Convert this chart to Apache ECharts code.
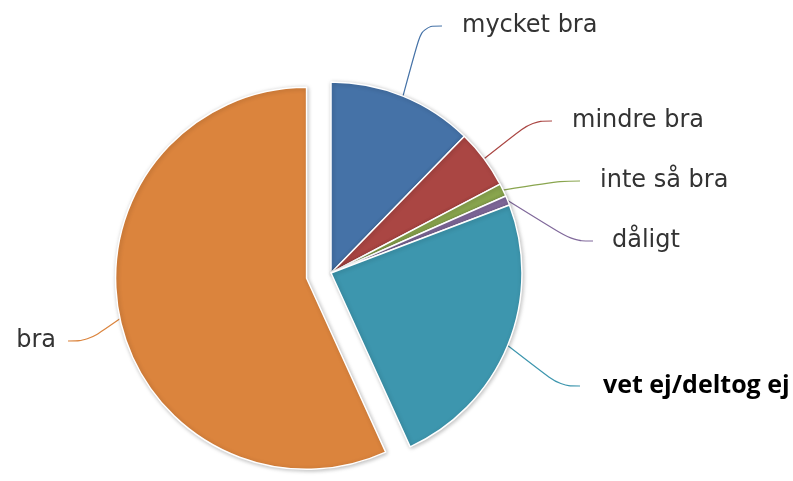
<!DOCTYPE html>
<html>
<head>
<meta charset="utf-8">
<script src="https://cdn.jsdelivr.net/npm/echarts@6/dist/echarts.min.js"></script>
<style>html,body{margin:0;padding:0;background:#fff}#c{width:793px;height:481px}</style>
</head>
<body>
<div id="c"></div>
<script>
var categories = ['mycket bra', 'mindre bra', 'inte så bra', 'dåligt', 'vet ej/deltog ej', 'bra'];
var values = [12.3, 5.0, 1.1, 0.8, 24.0, 56.8];
var colors = ['#4572A7', '#AA4643', '#89A54E', '#80699B', '#3D96AE', '#DB843D'];
var explodedName = 'bra';
// label anchor (text start for right-side labels, text end for left-side label)
var labelPos = [[462, 26], [572, 121], [600, 181], [612, 241], [603, 386], [56, 341]];
var labelAlign = ['left', 'left', 'left', 'left', 'left', 'right'];
var labelGap = [20, 20, 20, 19, 23, 12];

var CX = 331, CY = 273, R = 191, OFFSET = 25;

var total = values.reduce(function (a, b) { return a + b; }, 0);
var acc = 0, mid = 0;
categories.forEach(function (n, i) {
  if (n === explodedName) mid = acc + values[i] / 2;
  acc += values[i];
});
var midAngle = Math.PI / 2 - mid / total * 2 * Math.PI;
var ecx = CX + OFFSET * Math.cos(midAngle);
var ecy = CY - OFFSET * Math.sin(midAngle);

var baseItem = {
  borderColor: '#fff',
  borderWidth: 1.5,
  shadowBlur: 4,
  shadowColor: 'rgba(0,0,0,0.25)',
  shadowOffsetX: 1,
  shadowOffsetY: 1
};
var hidden = {
  itemStyle: { color: 'rgba(0,0,0,0)', borderWidth: 0, shadowBlur: 0, shadowColor: 'rgba(0,0,0,0)' },
  label: { show: false },
  labelLine: { show: false },
  emphasis: { disabled: true }
};

function buildData(showExploded) {
  return categories.map(function (name, i) {
    var item = { name: name, value: values[i] };
    var isEx = name === explodedName;
    if (isEx !== showExploded) {
      return Object.assign(item, hidden);
    }
    item.itemStyle = { color: colors[i] };
    var a = labelAlign[i];
    var bold = name === 'vet ej/deltog ej';
    var txtStyle = bold
      ? { fontWeight: 'bold', color: '#000', fontFamily: 'Open Sans', fontSize: 25 }
      : { color: '#333', fontFamily: 'DejaVu Sans', fontSize: 24 };
    item.label = {
      formatter: a === 'left' ? '{g|}{t|{b}}' : '{t|{b}}{g|}',
      rich: {
        g: { width: labelGap[i], height: 10 },
        t: txtStyle
      }
    };
    return item;
  });
}

function layoutFn(p) {
  var i = p.dataIndex;
  var pos = labelPos[i];
  var a = labelAlign[i];
  return {
    x: a === 'left' ? pos[0] - labelGap[i] : pos[0] + labelGap[i],
    y: pos[1],
    align: a,
    verticalAlign: 'middle'
  };
}

function series(center, showExploded) {
  return {
    type: 'pie',
    center: center,
    radius: R,
    startAngle: 90,
    clockwise: true,
    silent: true,
    avoidLabelOverlap: false,
    itemStyle: baseItem,
    label: {
      show: true,
      position: 'outside',
      color: '#333',
      fontSize: 24,
      fontFamily: 'DejaVu Sans'
    },
    labelLine: {
      show: true,
      length: 20,
      length2: 20,
      smooth: 0.4,
      lineStyle: { width: 1.2 }
    },
    labelLayout: layoutFn,
    data: buildData(showExploded)
  };
}

var chart = echarts.init(document.getElementById('c'));
chart.setOption({
  animation: false,
  series: [series([CX, CY], false), series([ecx, ecy], true)]
});
</script>
</body>
</html>
